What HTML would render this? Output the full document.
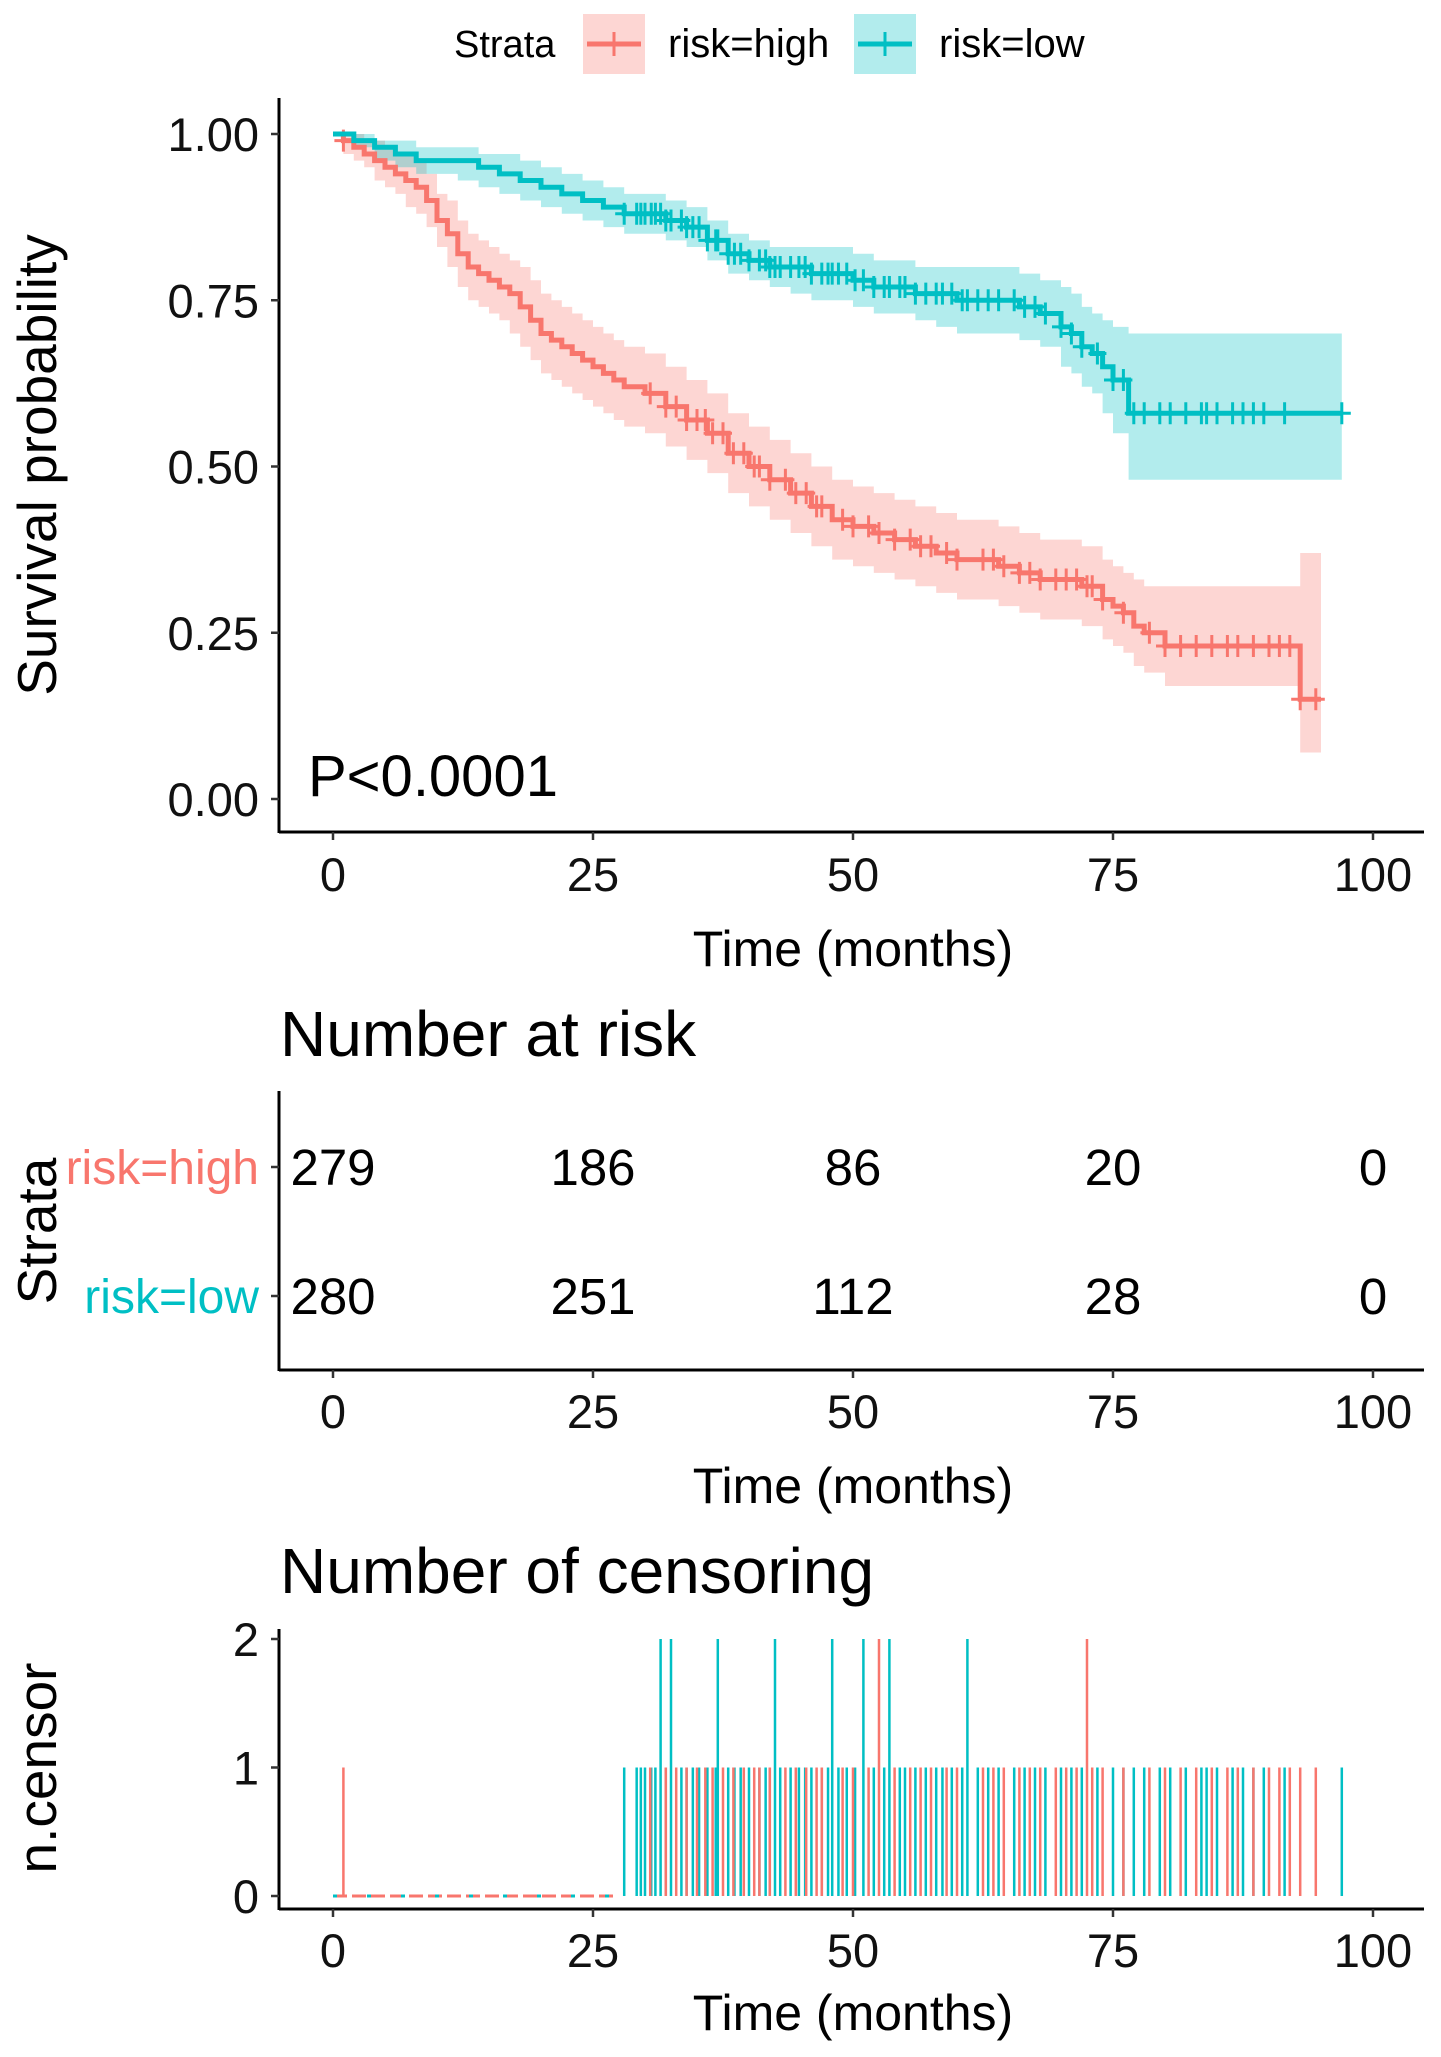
<!DOCTYPE html>
<html><head><meta charset="utf-8"><style>
html,body{margin:0;padding:0;background:#fff}
svg{display:block;font-family:"Liberation Sans",Arial,sans-serif}
</style></head><body>
<svg id="chart" width="1441" height="2057" viewBox="0 0 1441 2057">
<g id="legend">
<text x="454" y="57" font-size="38">Strata</text>
<rect x="583" y="14" width="62" height="60" fill="#F8766D" fill-opacity="0.3"/>
<line x1="587" y1="44" x2="641" y2="44" stroke="#F8766D" stroke-width="5"/>
<line x1="614" y1="32" x2="614" y2="56" stroke="#F8766D" stroke-width="3"/>
<text x="668" y="57" font-size="40">risk=high</text>
<rect x="854" y="14" width="62" height="60" fill="#00BFC4" fill-opacity="0.3"/>
<line x1="858" y1="44" x2="912" y2="44" stroke="#00BFC4" stroke-width="5"/>
<line x1="885" y1="32" x2="885" y2="56" stroke="#00BFC4" stroke-width="3"/>
<text x="939" y="57" font-size="40">risk=low</text>
</g>
<g id="main"></g>
<g id="risk"></g>
<g id="cens"></g>
</svg>
<script>
const xTicks=[0,25,50,75,100];
const yTicks=[0,0.25,0.5,0.75,1];
const yTickLabels=["0.00","0.25","0.50","0.75","1.00"];
const highT=[0,1,2,3,4,5,6,7,8,9,10,11,12,13,14,15,16,17,18,19,20,21,22,23,24,25,26,27,28,30,32,34,36,38,40,42,44,46,48,50,52,54,56,58,60,62,64,66,68,70,72,74,75,76,77,78,80,93];
const highS=[1,0.99,0.98,0.97,0.96,0.95,0.94,0.93,0.92,0.90,0.87,0.85,0.82,0.80,0.79,0.78,0.77,0.76,0.74,0.72,0.70,0.69,0.68,0.67,0.66,0.65,0.64,0.63,0.62,0.61,0.59,0.57,0.55,0.52,0.50,0.48,0.46,0.44,0.42,0.41,0.40,0.39,0.38,0.37,0.36,0.36,0.35,0.34,0.33,0.33,0.32,0.30,0.29,0.28,0.26,0.25,0.23,0.15];
const highLo=[1,0.97,0.96,0.95,0.93,0.92,0.91,0.89,0.88,0.86,0.83,0.80,0.77,0.75,0.74,0.73,0.72,0.70,0.68,0.66,0.64,0.63,0.62,0.61,0.60,0.59,0.58,0.57,0.56,0.55,0.53,0.51,0.49,0.46,0.44,0.42,0.40,0.38,0.36,0.35,0.34,0.33,0.32,0.31,0.30,0.30,0.29,0.28,0.27,0.27,0.26,0.24,0.23,0.22,0.20,0.19,0.17,0.07];
const highHi=[1,1,1,0.99,0.99,0.98,0.97,0.97,0.96,0.94,0.91,0.90,0.87,0.85,0.84,0.83,0.82,0.81,0.80,0.78,0.76,0.75,0.74,0.73,0.72,0.71,0.70,0.69,0.68,0.67,0.65,0.63,0.61,0.58,0.56,0.54,0.52,0.50,0.48,0.47,0.46,0.45,0.44,0.43,0.42,0.42,0.41,0.40,0.39,0.39,0.38,0.36,0.35,0.34,0.33,0.32,0.32,0.37];
const highEnd=95;
const lowT=[0,2,4,6,8,10,12,14,16,18,20,22,24,26,28,30,32,34,36,38,40,42,44,46,48,50,52,54,56,58,60,62,64,66,68,70,71,72,73,74,75,76.5];
const lowS=[1,0.99,0.98,0.97,0.96,0.96,0.96,0.95,0.94,0.93,0.92,0.91,0.90,0.89,0.88,0.88,0.87,0.86,0.84,0.82,0.81,0.80,0.80,0.79,0.79,0.78,0.77,0.77,0.76,0.76,0.75,0.75,0.75,0.74,0.73,0.71,0.70,0.68,0.67,0.65,0.63,0.58];
const lowLo=[1,0.98,0.96,0.95,0.94,0.94,0.93,0.92,0.91,0.90,0.89,0.88,0.87,0.86,0.85,0.85,0.84,0.83,0.81,0.79,0.78,0.77,0.76,0.75,0.75,0.74,0.73,0.73,0.72,0.71,0.70,0.70,0.70,0.69,0.68,0.65,0.64,0.62,0.61,0.58,0.55,0.48];
const lowHi=[1,1,0.99,0.99,0.98,0.98,0.98,0.97,0.97,0.96,0.95,0.94,0.93,0.92,0.91,0.91,0.90,0.89,0.87,0.85,0.84,0.83,0.83,0.83,0.83,0.82,0.81,0.81,0.80,0.80,0.80,0.80,0.80,0.79,0.78,0.77,0.76,0.74,0.73,0.72,0.71,0.70];
const lowEnd=97;
const riskHigh=[279,186,86,20,0];
const riskLow=[280,251,112,28,0];
const censHigh1=[1,30.5,32,33,34,35,35.8,36.5,37.5,38.5,39.5,40.5,41,42,43.5,44.5,45.5,46.5,47,49,50,51.5,54,55.5,56.5,57.5,59,60,62.5,63.5,64.5,66,67,68,69.5,70.5,71.5,73,74,76,78.5,80,81.5,83,84.5,86,87,88.5,90,91,92,93,94.5];
const censHigh2=[52.5,72.5];
const censLow1=[28,29.2,29.6,30,30.6,31,32,33.5,34,34.6,35.2,36,36.8,38,38.6,39.2,40,41,41.6,42,43,44,44.8,45.4,46,47,47.6,48.6,49.4,50.2,52,53,54.5,55,56,57,58,58.6,59.5,60.5,62,63,64,65.5,66.5,67.5,68.5,70,71,72,73.5,75,76,77,78,79.5,80.5,82,83.5,84,85,86.5,87.5,88.5,89.5,91.5,97];
const censLow2=[31.5,32.5,37,42.5,48,51,53.5,61];

const NS='http://www.w3.org/2000/svg';
const X=t=>333+t*10.4;
const Ym=s=>799-s*665;
const Yc=n=>1896-n*128.5;
function mk(parent,tag,attrs,txt){const e=document.createElementNS(NS,tag);for(const k in attrs)e.setAttribute(k,attrs[k]);if(txt!==undefined)e.textContent=txt;parent.appendChild(e);return e;}
function stepPath(T,S,end){let d=`M${X(T[0])},${Ym(S[0])}`;for(let i=1;i<T.length;i++){d+=`H${X(T[i])}V${Ym(S[i])}`;}d+=`H${X(end)}`;return d;}
function bandPath(T,L,H,end){let up=`M${X(T[0])},${Ym(H[0])}`;for(let i=1;i<T.length;i++)up+=`H${X(T[i])}V${Ym(H[i])}`;up+=`H${X(end)}V${Ym(L[L.length-1])}`;for(let i=T.length-1;i>0;i--)up+=`H${X(T[i])}V${Ym(L[i-1])}`;up+=`H${X(T[0])}Z`;return up;}
function survAt(T,S,t){let s=S[0];for(let i=0;i<T.length;i++)if(T[i]<=t)s=S[i];return s;}
function xAxis(g,y0,labelY,titleY){
  const ax=mk(g,'line',{x1:279,y1:y0,x2:1424,y2:y0,stroke:'#000','stroke-width':3});
  
  xTicks.forEach(t=>{mk(g,'line',{x1:X(t),y1:y0,x2:X(t),y2:y0+8,stroke:'#333','stroke-width':2.5});
    const l=mk(g,'text',{x:X(t),y:labelY,'font-size':47,'text-anchor':'middle',fill:'#111'},t);
    });
  const tt=mk(g,'text',{x:853,y:titleY,'font-size':50,'text-anchor':'middle'},'Time (months)');
  
}
const gm=document.getElementById('main');
[[highT,highLo,highHi,highEnd,'#F8766D','high'],[lowT,lowLo,lowHi,lowEnd,'#00BFC4','low']].forEach(a=>{
  const p=mk(gm,'path',{d:bandPath(a[0],a[1],a[2],a[3]),fill:a[4],'fill-opacity':0.3});
  });
[[highT,highS,highEnd,'#F8766D','high',censHigh1.concat(censHigh2)],[lowT,lowS,lowEnd,'#00BFC4','low',censLow1.concat(censLow2)]].forEach(a=>{
  const p=mk(gm,'path',{d:stepPath(a[0],a[1],a[2]),fill:'none',stroke:a[3],'stroke-width':5});
  
  a[5].forEach(t=>{const y=Ym(survAt(a[0],a[1],t));
    const c=mk(gm,'path',{d:`M${X(t)-9},${y}H${X(t)+9}M${X(t)},${y-11}V${y+11}`,stroke:a[3],'stroke-width':3});
    });
});
const ya=mk(gm,'line',{x1:279,y1:98,x2:279,y2:833,stroke:'#000','stroke-width':3});

yTicks.forEach((v,i)=>{mk(gm,'line',{x1:271,y1:Ym(v),x2:279,y2:Ym(v),stroke:'#333','stroke-width':2.5});
  const l=mk(gm,'text',{x:259,y:Ym(v)+17,'font-size':47,'text-anchor':'end',fill:'#111'},yTickLabels[i]);
  });
const yt=mk(gm,'text',{x:0,y:0,'font-size':55,'text-anchor':'middle',transform:'translate(56,465) rotate(-90)'},'Survival probability');

const pv=mk(gm,'text',{x:308,y:796,'font-size':58},'P<0.0001');

xAxis(gm,832,891,966);
const gr=document.getElementById('risk');
const rt=mk(gr,'text',{x:280,y:1056,'font-size':64},'Number at risk');

mk(gr,'line',{x1:279,y1:1091,x2:279,y2:1371,stroke:'#000','stroke-width':3});
[[riskHigh,1167,'risk=high','#F8766D','high'],[riskLow,1296,'risk=low','#00BFC4','low']].forEach(r=>{
  mk(gr,'line',{x1:271,y1:r[1],x2:279,y2:r[1],stroke:'#333','stroke-width':2.5});
  const l=mk(gr,'text',{x:259,y:r[1]+17,'font-size':48,'text-anchor':'end',fill:r[3]},r[2]);
  
  r[0].forEach((v,i)=>{const t=mk(gr,'text',{x:X(xTicks[i]),y:r[1]+18,'font-size':51,'text-anchor':'middle'},v);
    });
});
const st=mk(gr,'text',{x:0,y:0,'font-size':55,'text-anchor':'middle',transform:'translate(56,1231) rotate(-90)'},'Strata');

xAxis(gr,1370,1428,1503);
const gc=document.getElementById('cens');
const ct=mk(gc,'text',{x:280,y:1593,'font-size':64},'Number of censoring');

mk(gc,'line',{x1:279,y1:1629,x2:279,y2:1910,stroke:'#000','stroke-width':3});
[0,1,2].forEach(v=>{mk(gc,'line',{x1:271,y1:Yc(v),x2:279,y2:Yc(v),stroke:'#333','stroke-width':2.5});
  const l=mk(gc,'text',{x:259,y:Yc(v)+17,'font-size':47,'text-anchor':'end',fill:'#111'},v);
  });
mk(gc,'line',{x1:X(0),y1:Yc(0),x2:X(27),y2:Yc(0),stroke:'#F8766D','stroke-width':3,'stroke-dasharray':'14 5'});
mk(gc,'line',{x1:X(0),y1:Yc(0),x2:X(27),y2:Yc(0),stroke:'#00BFC4','stroke-width':3,'stroke-dasharray':'4 30'});
[[censLow1,1,'#00BFC4','low'],[censLow2,2,'#00BFC4','low'],[censHigh1,1,'#F8766D','high'],[censHigh2,2,'#F8766D','high']].forEach(c=>{
  c[0].forEach(t=>{const b=mk(gc,'line',{x1:X(t),y1:Yc(0),x2:X(t),y2:Yc(c[1]),stroke:c[2],'stroke-width':2.5});
    });
});
const nt=mk(gc,'text',{x:0,y:0,'font-size':55,'text-anchor':'middle',transform:'translate(56,1768) rotate(-90)'},'n.censor');

xAxis(gc,1909,1967,2030);
</script>
</body></html>
